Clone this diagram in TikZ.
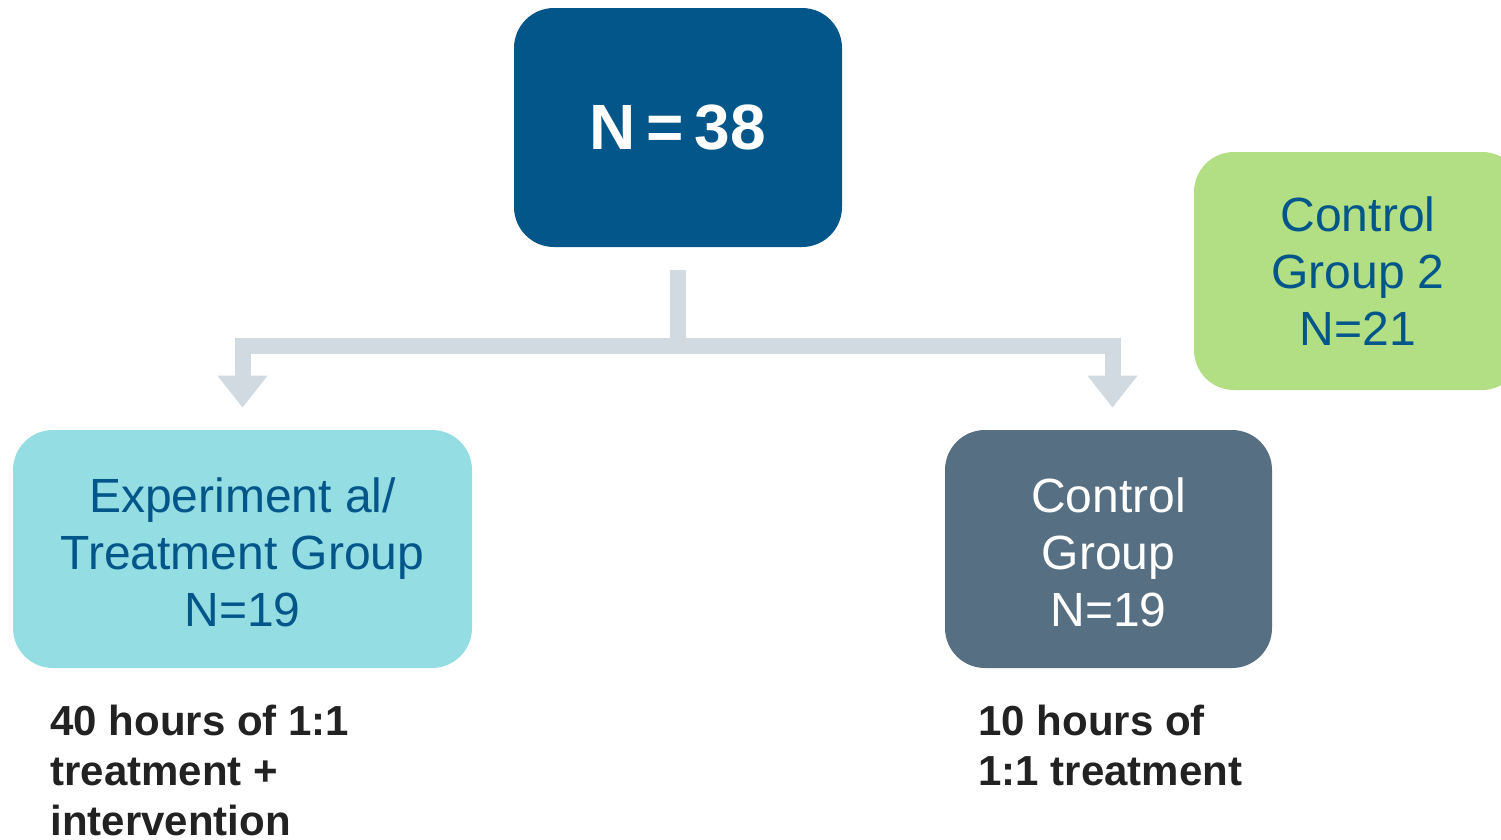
\documentclass[tikz,border=0pt]{standalone}
\usepackage{fontspec}
\setmainfont{Liberation Sans}
\usepackage{tikz}
\usetikzlibrary{arrows.meta}
\definecolor{navy}{HTML}{02568A}
\definecolor{aqua}{HTML}{94DDE3}
\definecolor{slate}{HTML}{576F82}
\definecolor{lime}{HTML}{B2DE84}
\definecolor{pale}{HTML}{D1DAE1}
\definecolor{ink}{HTML}{222222}
\tikzset{every picture/.style={line width=0.75pt}}
\tikzset{
  grp/.style={rounded corners=40pt, inner sep=0pt, align=center, font=\fontsize{48}{57}\selectfont},
  note/.style={anchor=north west, inner sep=0pt, align=left, text=ink, font=\fontsize{42}{50}\selectfont\bfseries},
  flow/.style={draw=pale, line width=16pt, line join=miter, -{Triangle[width=48pt,length=32pt]}, shorten <=23pt, shorten >=22pt}
}
\newcommand{\dropline}{\rule{0pt}{41pt}}

\begin{document}
\begin{tikzpicture}[x=1pt,y=1pt,yscale=-1,xscale=1]
    \useasboundingbox (0,0) rectangle (1501,839);
    \clip (0,0) rectangle (1501,839);
    \draw (678,127.5) node [grp, fill=navy, text=white, minimum width=328pt, minimum height=239pt, font=\fontsize{64}{70}\selectfont\bfseries] (total) {N\,=\,38};
    \draw (242.5,549) node [grp, fill=aqua, text=navy, minimum width=459pt, minimum height=238pt] (expt) {\dropline Experiment al/\\Treatment Group\\N=19};
    \draw (1108.5,549) node [grp, fill=slate, text=white, minimum width=327pt, minimum height=238pt] (ctrl) {\dropline Control\\Group\\N=19};
    \draw (1358,271) node [grp, fill=lime, text=navy, minimum width=328pt, minimum height=238pt] (ctrltwo) {Control\\Group 2\\N=21};
    \draw [flow] (total.south) -- ++(0,99) -| (expt.north);
    \draw [flow] (total.south) -- ++(0,99) -| ([xshift=4pt]ctrl.north);
    \draw (50,705) node [note] (exptnote) {40 hours of 1:1\\treatment +\\intervention};
    \draw (978,705) node [note] (ctrlnote) {10 hours of\\1:1 treatment};
\end{tikzpicture}
\end{document}
